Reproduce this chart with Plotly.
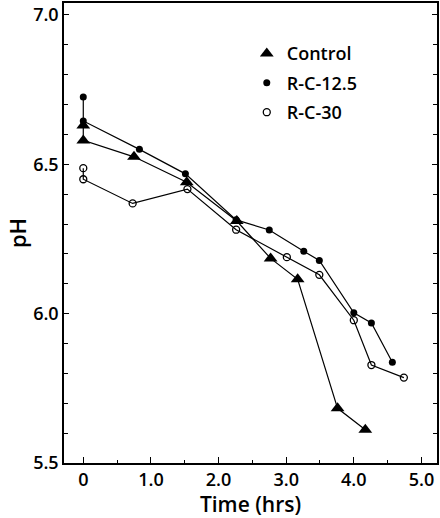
import plotly.graph_objects as go

control_t = [0, 0, 0.75, 1.53, 2.27, 2.77, 3.17, 3.76, 4.17]
control_ph = [6.63, 6.58, 6.525, 6.44, 6.31, 6.185, 6.115, 5.683, 5.611]

rc125_t = [0, 0, 0.83, 1.51, 2.26, 2.75, 3.26, 3.49, 4.0, 4.26, 4.57]
rc125_ph = [6.725, 6.645, 6.55, 6.468, 6.314, 6.28, 6.209, 6.178, 6.003, 5.969, 5.837]

rc30_t = [0, 0, 0.73, 1.54, 2.26, 3.01, 3.49, 4.0, 4.26, 4.74]
rc30_ph = [6.487, 6.45, 6.369, 6.417, 6.281, 6.189, 6.13, 5.978, 5.828, 5.786]

y_ticks = [5.5, 6.0, 6.5, 7.0]
y_labels = ["5.5", "6.0", "6.5", "7.0"]
x_ticks = [0, 1, 2, 3, 4, 5]
x_labels = ["0", "1.0", "2.0", "3.0", "4.0", "5.0"]

FONT = "Open Sans"
W = 600
fig = go.Figure()

series = [
    ("Control", control_t, control_ph, dict(symbol="triangle-up", size=12, color="black")),
    ("R-C-12.5", rc125_t, rc125_ph, dict(symbol="circle", size=7, color="black")),
    ("R-C-30", rc30_t, rc30_ph, dict(symbol="circle-open", size=7, color="black",
                                      line=dict(width=1.3, color="black"))),
]

for name, t, ph, mk in series:
    fig.add_trace(go.Scatter(x=t, y=ph, mode="lines+markers", name=name,
                             line=dict(color="black", width=1.2),
                             marker=mk, showlegend=False))

for name, t, ph, mk in series:
    fig.add_trace(go.Scatter(x=[None], y=[None], mode="markers", name=name,
                             marker=dict(mk), legendgroup=name, showlegend=True))

fig.update_layout(
    width=440, height=518,
    margin=dict(l=64, r=1, t=3, b=55),
    paper_bgcolor="white", plot_bgcolor="white",
    font=dict(family=FONT, color="black", weight=W),
    legend=dict(x=0.49, y=0.93, xanchor="left", yanchor="top",
                font=dict(size=18, family=FONT, color="black", weight=W),
                tracegroupgap=3, traceorder="grouped",
                bgcolor="rgba(0,0,0,0)"),
)

fig.update_xaxes(
    range=[-0.285, 5.23], showgrid=False, zeroline=False,
    showline=True, linecolor="black", linewidth=1.5, mirror=True,
    tickmode="array", tickvals=x_ticks, ticktext=x_labels,
    ticks="inside", ticklen=6, tickwidth=1.3, tickcolor="black",
    tickfont=dict(size=18, family=FONT, weight=W),
    minor=dict(dtick=0.5, tick0=0, ticks="inside", ticklen=3, tickwidth=1.2, tickcolor="black"),
    title=dict(text="Time (hrs)", font=dict(size=21, family=FONT, weight=W), standoff=1),
)
fig.update_yaxes(
    range=[5.5, 7.04], showgrid=False, zeroline=False,
    showline=True, linecolor="black", linewidth=1.5, mirror="ticks",
    tickmode="array", tickvals=y_ticks, ticktext=y_labels,
    ticks="inside", ticklen=5, tickwidth=1.3, tickcolor="black",
    tickfont=dict(size=18, family=FONT, weight=W),
    minor=dict(dtick=0.1, tick0=5.5, ticks="inside", ticklen=4, tickwidth=1.2, tickcolor="black"),
    title=dict(text="pH", font=dict(size=22, family=FONT, weight=W), standoff=0),
)

fig.write_html("out.html")
